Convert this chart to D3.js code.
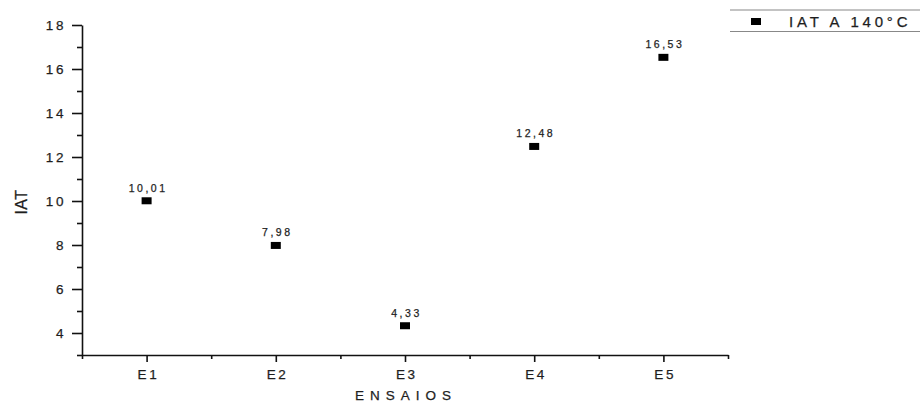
<!DOCTYPE html>
<html>
<head>
<meta charset="utf-8">
<script src="https://cdn.jsdelivr.net/npm/d3@7"></script>
<style>
  html, body { margin: 0; padding: 0; background: #fff; }
  svg text { font-family: Arial, "Liberation Sans", sans-serif; fill: #1e1e1e; stroke: #1e1e1e; stroke-width: 0.25px; }
</style>
</head>
<body>
<svg id="chart" width="920" height="403"></svg>
<script>
// Ensaios e valores de IAT
const categories = ["E1", "E2", "E3", "E4", "E5"];
const iatValues = [10.01, 7.98, 4.33, 12.48, 16.53];
const valueLabels = ["10,01", "7,98", "4,33", "12,48", "16,53"];
const yTicks = [4, 6, 8, 10, 12, 14, 16, 18];
const seriesName = "IAT A 140°C";

const svg = d3.select("#chart");
const plot = { left: 82, right: 728, top: 25, bottom: 355 };

const x = d3.scaleLinear().domain([0.5, categories.length + 0.5]).range([plot.left, plot.right]);
const y = d3.scaleLinear().domain([3, 18]).range([plot.bottom, plot.top]);

// Y axis: major and minor ticks
const yMinor = d3.range(3, 18.01, 1).filter(v => !yTicks.includes(v));
svg.append("g").attr("class", "yaxis").attr("transform", `translate(${plot.left},0)`)
  .call(d3.axisLeft(y).tickValues(yTicks).tickSize(10).tickSizeOuter(0).tickPadding(6).tickFormat(d3.format("d")));
svg.append("g").attr("transform", `translate(${plot.left},0)`)
  .call(d3.axisLeft(y).tickValues(yMinor).tickSize(5).tickSizeOuter(0).tickFormat(""))
  .select(".domain").remove();

// X axis: category ticks and in-between minor ticks
const xMajor = categories.map((c, i) => i + 1);
const xMinor = d3.range(0.5, categories.length + 0.51, 1);
svg.append("g").attr("class", "xaxis").attr("transform", `translate(0,${plot.bottom})`)
  .call(d3.axisBottom(x).tickValues(xMajor).tickSize(7).tickSizeOuter(0).tickPadding(7)
    .tickFormat((d) => categories[d - 1]));
svg.append("g").attr("transform", `translate(0,${plot.bottom})`)
  .call(d3.axisBottom(x).tickValues(xMinor).tickSize(4).tickSizeOuter(0).tickFormat(""))
  .select(".domain").remove();

svg.selectAll(".domain").attr("stroke", "#111").attr("stroke-width", 1.6);
svg.selectAll(".tick line").attr("stroke", "#111").attr("stroke-width", 1.6);
svg.selectAll(".tick text")
  .style("font-size", "13.5px").style("letter-spacing", "2.6px").attr("fill", "#1e1e1e");
svg.selectAll(".xaxis .tick text").attr("dx", "1.3px");

// Axis titles
svg.append("text").attr("x", 406).attr("y", 400).attr("text-anchor", "middle")
  .style("font-size", "13.5px").style("letter-spacing", "6px").text("ENSAIOS");
svg.append("text").attr("transform", "translate(27,202) rotate(-90)").attr("text-anchor", "middle")
  .style("font-size", "16px").style("letter-spacing", "0.5px").text("IAT");

// Points and value labels
const pts = svg.append("g");
pts.selectAll("rect").data(iatValues).join("rect")
  .attr("x", (d, i) => x(i + 1) - 5).attr("y", d => y(d) - 3.5)
  .attr("width", 10).attr("height", 7).attr("fill", "#000");
pts.selectAll("text").data(iatValues).join("text")
  .attr("x", (d, i) => x(i + 1) + 1.5).attr("y", d => y(d) - 9)
  .attr("text-anchor", "middle")
  .style("font-size", "10.5px").style("letter-spacing", "2.5px")
  .text((d, i) => valueLabels[i]);

// Legend
const lg = svg.append("g");
lg.append("line").attr("x1", 730).attr("x2", 920).attr("y1", 10).attr("y2", 10).attr("stroke", "#888").attr("stroke-width", 1.2);
lg.append("line").attr("x1", 730).attr("x2", 920).attr("y1", 31.5).attr("y2", 31.5).attr("stroke", "#888").attr("stroke-width", 1.2);
lg.append("rect").attr("x", 751).attr("y", 18).attr("width", 10).attr("height", 7).attr("fill", "#000");
lg.append("text").attr("x", 789).attr("y", 27).style("font-size", "15px").style("letter-spacing", "3.8px").text(seriesName);
</script>
</body>
</html>
